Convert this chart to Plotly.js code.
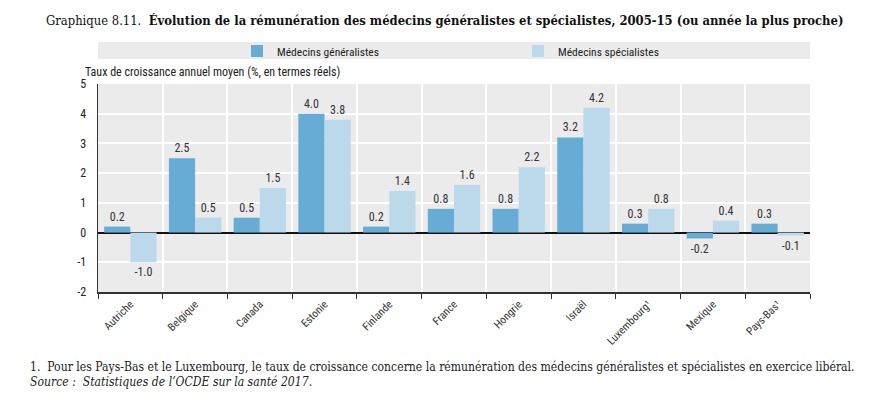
<!DOCTYPE html>
<html>
<head>
<meta charset="utf-8">
<script src="https://cdn.plot.ly/plotly-3.0.1.min.js"></script>
<style>html,body{margin:0;padding:0;background:#fff;}#chart{width:880px;height:393px;}</style>
</head>
<body>
<div id="chart"></div>
<script>
const categories = ["Autriche","Belgique","Canada","Estonie","Finlande","France","Hongrie","Israël","Luxembourg¹","Mexique","Pays-Bas¹"];
const generalistes = [0.2, 2.5, 0.5, 4.0, 0.2, 0.8, 0.8, 3.2, 0.3, -0.2, 0.3];
const specialistes = [-1.0, 0.5, 1.5, 3.8, 1.4, 1.6, 2.2, 4.2, 0.8, 0.4, -0.1];
const yTicks = [-2, -1, 0, 1, 2, 3, 4, 5];

const sans = "Liberation Sans Narrow, Roboto Condensed, DejaVu Sans Condensed, Arial Narrow, sans-serif";
const serif = "DejaVu Serif Condensed, DejaVu Serif, serif";

const fmt = v => v.toFixed(1);

const traces = [
  {type:"bar", name:"Médecins généralistes", x:categories, y:generalistes, legend:"legend",
   marker:{color:"#67acd4"}, text:generalistes.map(fmt), textposition:"outside",
   textfont:{family:sans, size:12, color:"#333"}, cliponaxis:false, hoverinfo:"x+y"},
  {type:"bar", name:"Médecins spécialistes", x:categories, y:specialistes, legend:"legend2",
   marker:{color:"#bcd9eb"}, text:specialistes.map(fmt), textposition:"outside",
   textfont:{family:sans, size:12, color:"#333"}, cliponaxis:false, hoverinfo:"x+y"}
];

const legendFont = {family:sans, size:11.5, color:"#222"};
const layout = {
  width:880, height:393,
  margin:{l:98, r:70, t:84, b:101},
  paper_bgcolor:"#fff", plot_bgcolor:"#ebebeb",
  font:{family:sans, size:11, color:"#222"},
  barmode:"group", bargap:0.19, bargroupgap:0,
  showlegend:true,
  legend:{orientation:"h", x:(237-98)/712, xanchor:"left", y:(292-36.5)/208, yanchor:"top",
    bgcolor:"rgba(0,0,0,0)", font:legendFont},
  legend2:{orientation:"h", x:(518-98)/712, xanchor:"left", y:(292-36.5)/208, yanchor:"top",
    bgcolor:"rgba(0,0,0,0)", font:legendFont},
  title:{text:'Graphique 8.11.  <b>Évolution de la rémunération des médecins généralistes et spécialistes, 2005-15 (ou année la plus proche)</b>',
    x:46/880, xanchor:"left", y:1-20/393, yanchor:"middle",
    font:{family:serif, size:12.9, color:"#111"}},
  xaxis:{type:"category", tickson:"boundaries", showgrid:true, gridcolor:"#fff", gridwidth:2,
    ticks:"outside", ticklen:5, tickcolor:"#333", tickwidth:1,
    showline:true, linecolor:"#333", linewidth:1.5,
    tickangle:-45, tickfont:{family:sans, size:11, color:"#333"}, fixedrange:true},
  yaxis:{range:[-2,5], tickvals:yTicks, ticktext:yTicks.map(String),
    showgrid:true, gridcolor:"#fff", gridwidth:2,
    zeroline:true, zerolinecolor:"#111", zerolinewidth:2,
    showline:true, linecolor:"#333", linewidth:1.5, ticks:"", ticklen:0, ticklabelstandoff:8,
    tickfont:{family:sans, size:12, color:"#222"}, fixedrange:true},
  shapes:[
    {type:"rect", xref:"paper", yref:"paper", x0:0, x1:1, y0:(292-59)/208, y1:(292-42)/208,
     fillcolor:"#ebebeb", line:{width:0}, layer:"below"}
  ],
  annotations:[
    {text:"Taux de croissance annuel moyen (%, en termes réels)", xref:"paper", yref:"paper",
     x:(83-98)/712, xanchor:"left", y:(292-72)/208, yanchor:"middle", showarrow:false,
     font:{family:sans, size:12, color:"#222"}},
    {text:"1.  Pour les Pays-Bas et le Luxembourg, le taux de croissance concerne la rémunération des médecins généralistes et spécialistes en exercice libéral.",
     xref:"paper", yref:"paper", x:(28-98)/712, xanchor:"left", y:(292-367)/208, yanchor:"middle",
     showarrow:false, font:{family:serif, size:12.1, color:"#222"}},
    {text:"<i>Source :  Statistiques de l’OCDE sur la santé 2017</i>.",
     xref:"paper", yref:"paper", x:(28-98)/712, xanchor:"left", y:(292-382)/208, yanchor:"middle",
     showarrow:false, font:{family:serif, size:12.1, color:"#222"}}
  ]
};

Plotly.newPlot("chart", traces, layout, {displayModeBar:false, staticPlot:true});
</script>
</body>
</html>
